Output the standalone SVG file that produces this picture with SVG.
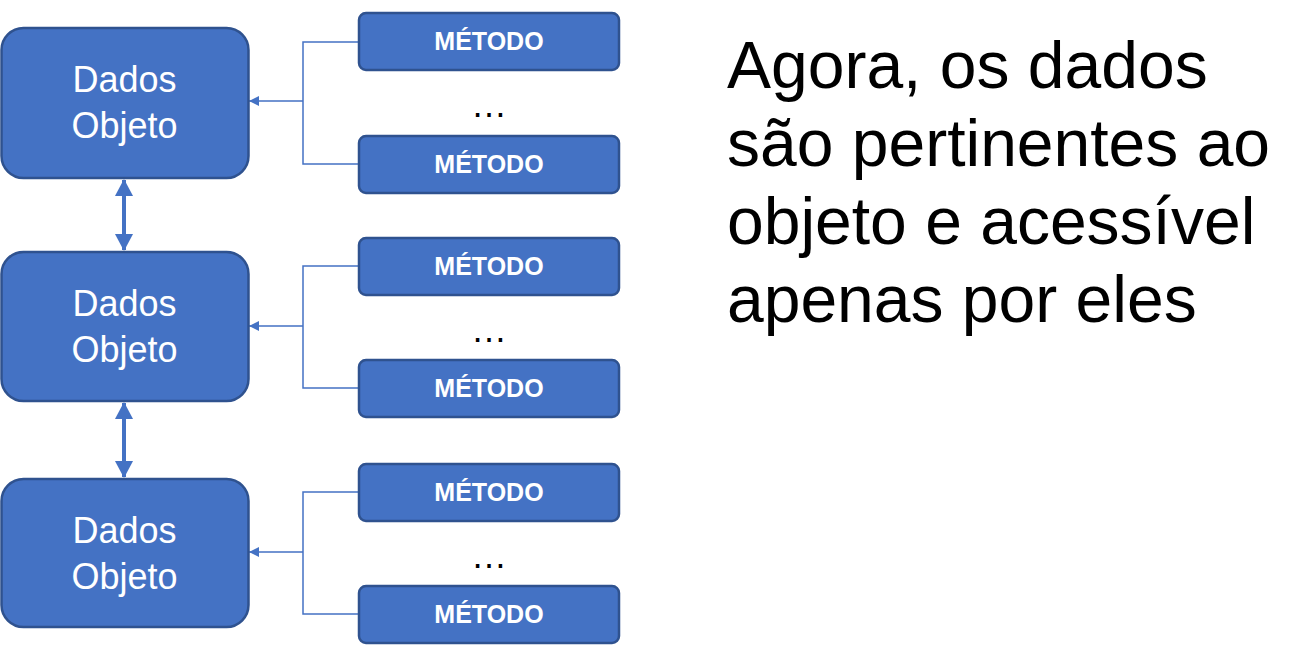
<svg xmlns="http://www.w3.org/2000/svg" width="1314" height="645" viewBox="0 0 1314 645">
<defs>
<style>
.obj{fill:#4472C4;stroke:#2F528F;stroke-width:2.5}
.met{fill:#4472C4;stroke:#2F528F;stroke-width:2.5}
.ot{font-family:Arial,"Liberation Sans",sans-serif;font-size:36px;fill:#fff;text-anchor:middle}
.mt{font-family:Arial,"Liberation Sans",sans-serif;font-size:25px;font-weight:bold;fill:#fff;text-anchor:middle}
.dots{font-family:Arial,"Liberation Sans",sans-serif;font-size:36px;fill:#000;text-anchor:middle}
.big{font-family:Arial,"Liberation Sans",sans-serif;font-size:66px;fill:#000}
.ln{fill:none;stroke:#4472C4;stroke-width:1.5}
.dbl{fill:none;stroke:#4472C4;stroke-width:4}
</style>
<marker id="ah" viewBox="0 0 10 10" refX="10" refY="5" markerWidth="10" markerHeight="10" markerUnits="userSpaceOnUse" orient="auto">
<path d="M0,0 L10,5 L0,10 z" fill="#4472C4"/>
</marker>
<marker id="ah2" viewBox="0 0 17 18" refX="16" refY="9" markerWidth="17" markerHeight="18" markerUnits="userSpaceOnUse" orient="auto-start-reverse">
<path d="M0,0 L17,9 L0,18 z" fill="#4472C4"/>
</marker>
</defs>
<g id="connectors">
<path class="ln" d="M359,42 H303 V164 H359 M303,101 H249" marker-end="url(#ah)"/>
<path class="ln" d="M359,266 H303 V388 H359 M303,326 H249" marker-end="url(#ah)"/>
<path class="ln" d="M359,492 H303 V614 H359 M303,552 H249" marker-end="url(#ah)"/>
<line class="dbl" x1="124" y1="180" x2="124" y2="250" marker-start="url(#ah2)" marker-end="url(#ah2)"/>
<line class="dbl" x1="124" y1="403" x2="124" y2="477" marker-start="url(#ah2)" marker-end="url(#ah2)"/>
</g>
<g id="obj1"><rect class="obj" x="1.5" y="28" width="247" height="150" rx="22"/><text class="ot" x="124.5" y="92">Dados</text><text class="ot" x="124.5" y="138">Objeto</text></g>
<g id="obj2"><rect class="obj" x="1.5" y="252" width="247" height="149" rx="22"/><text class="ot" x="124.5" y="316">Dados</text><text class="ot" x="124.5" y="362">Objeto</text></g>
<g id="obj3"><rect class="obj" x="1.5" y="479" width="247" height="148" rx="22"/><text class="ot" x="124.5" y="543">Dados</text><text class="ot" x="124.5" y="589">Objeto</text></g>
<g id="m1a"><rect class="met" x="359" y="13" width="260" height="57" rx="7"/><text class="mt" x="489" y="50">MÉTODO</text></g>
<g id="m1b"><rect class="met" x="359" y="136" width="260" height="57" rx="7"/><text class="mt" x="489" y="173">MÉTODO</text></g>
<g id="m2a"><rect class="met" x="359" y="238" width="260" height="57" rx="7"/><text class="mt" x="489" y="275">MÉTODO</text></g>
<g id="m2b"><rect class="met" x="359" y="360" width="260" height="57" rx="7"/><text class="mt" x="489" y="397">MÉTODO</text></g>
<g id="m3a"><rect class="met" x="359" y="464" width="260" height="57" rx="7"/><text class="mt" x="489" y="501">MÉTODO</text></g>
<g id="m3b"><rect class="met" x="359" y="586" width="260" height="57" rx="7"/><text class="mt" x="489" y="623">MÉTODO</text></g>
<g id="dots"><text class="dots" x="489" y="117">…</text><text class="dots" x="489" y="342">…</text><text class="dots" x="489" y="568">…</text></g>
<g id="caption"><text class="big" x="727" y="88">Agora, os dados</text><text class="big" x="727" y="166">são pertinentes ao</text><text class="big" x="727" y="244">objeto e acessível</text><text class="big" x="727" y="322">apenas por eles</text></g>
</svg>
